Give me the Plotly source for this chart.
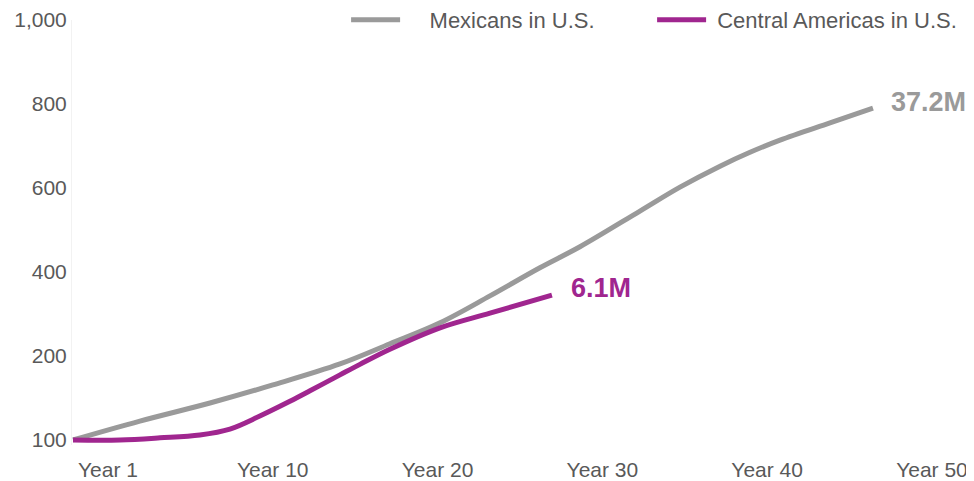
import plotly.graph_objects as go

# Tick labels
x_tick_vals = [0, 10, 20, 30, 40, 50]
x_tick_text = ["Year 1", "Year 10", "Year 20", "Year 30", "Year 40", "Year 50"]
y_tick_vals = [0, 200, 400, 600, 800, 1000]
y_tick_text = ["100", "200", "400", "600", "800", "1,000"]

# Series (in axis units)
mex_x = [-2.12, 1.94, 6.19, 10.01, 14.08, 17.11, 20.15, 23.18, 26.21, 28.64, 32.28, 34.71, 37.14, 38.96, 40.78, 43.81, 46.42]
mex_y = [0, 45, 88, 131, 181, 229, 279, 343, 410, 460, 545, 602, 652, 685, 714, 755, 790]
cam_x = [-2.12, 0.73, 3.16, 5.58, 7.40, 9.22, 11.04, 12.26, 14.08, 15.29, 17.11, 20.15, 23.18, 26.94]
cam_y = [0, 0, 5, 12, 26, 57, 92, 117, 155, 180, 216, 267, 302, 345]

mex_name = "Mexicans in U.S."
cam_name = "Central Americas in U.S."
mex_label = "37.2M"
cam_label = "6.1M"

GRAY = "#9a9a9a"
PURPLE = "#a0268f"
TEXT = "#595959"
FONT = "Liberation Sans, Arial, sans-serif"

fig = go.Figure()
fig.add_trace(go.Scatter(x=mex_x, y=mex_y, mode="lines", name="\u00a0" * 4 + mex_name,
                         line=dict(color=GRAY, width=5, shape="spline", smoothing=1.0)))
fig.add_trace(go.Scatter(x=cam_x, y=cam_y, mode="lines", name="\u00a0" + cam_name,
                         line=dict(color=PURPLE, width=5, shape="spline", smoothing=1.0)))

fig.add_annotation(x=mex_x[-1], y=mex_y[-1], text=f"<b>{mex_label}</b>", showarrow=False,
                   xanchor="left", yanchor="middle", xshift=16, yshift=6,
                   font=dict(family=FONT, size=27, color=GRAY))
fig.add_annotation(x=cam_x[-1], y=cam_y[-1], text=f"<b>{cam_label}</b>", showarrow=False,
                   xanchor="left", yanchor="middle", xshift=17, yshift=7,
                   font=dict(family=FONT, size=27, color=PURPLE))

fig.update_layout(
    width=966, height=473,
    margin=dict(l=64, r=14, t=12, b=36, autoexpand=False),
    paper_bgcolor="white", plot_bgcolor="white",
    font=dict(family=FONT, size=21, color=TEXT),
    showlegend=True,
    legend=dict(orientation="h", xref="container", yref="container",
                x=0.350, y=0.975, xanchor="left", yanchor="middle",
                itemwidth=49, entrywidth=242, entrywidthmode="pixels",
                font=dict(family=FONT, size=22, color=TEXT),
                bgcolor="rgba(0,0,0,0)"),
    xaxis=dict(range=[-2.18, 51.70], tickvals=x_tick_vals, ticktext=x_tick_text,
               showgrid=False, zeroline=False, showline=False,
               ticks="outside", ticklen=6, tickcolor="rgba(0,0,0,0)",
               tickfont=dict(family=FONT, size=21, color=TEXT)),
    yaxis=dict(range=[-12, 1000], tickvals=y_tick_vals, ticktext=y_tick_text,
               showgrid=False, zeroline=False, showline=True, linecolor="#f2f2f2", linewidth=1,
               ticks="", tickfont=dict(family=FONT, size=21, color=TEXT)),
)

fig.write_html("out.html")
